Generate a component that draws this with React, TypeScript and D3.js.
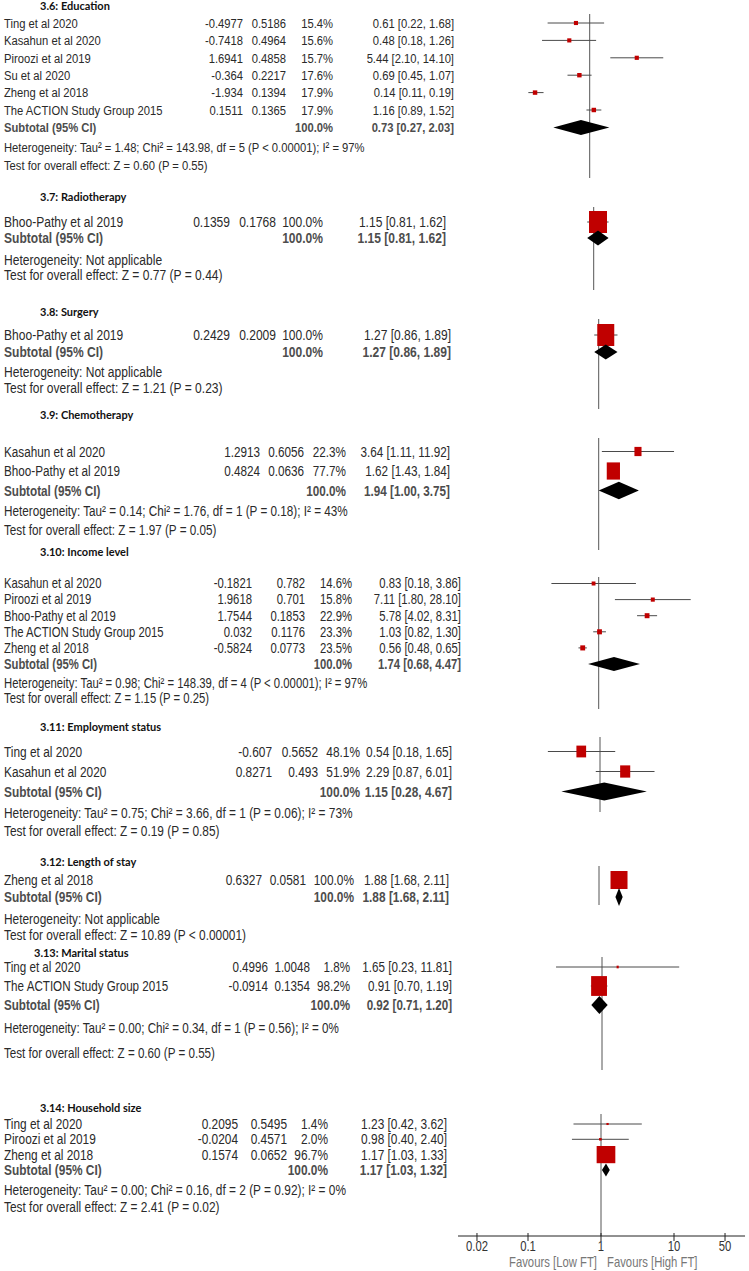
import * as d3 from 'd3';

// ---- data ----
const sectionTitles = [
  '3.6: Education', '3.7: Radiotherapy', '3.8: Surgery', '3.9: Chemotherapy', '3.10: Income level',
  '3.11: Employment status', '3.12: Length of stay', '3.13: Marital status', '3.14: Household size',
];

const studySection = [0, 0, 0, 0, 0, 0, 1, 2, 3, 3, 4, 4, 4, 4, 4, 5, 5, 6, 7, 7, 8, 8, 8];
const studyNames = [
  'Ting et al 2020', 'Kasahun et al 2020', 'Piroozi et al 2019', 'Su et al 2020', 'Zheng et al 2018', 'The ACTION Study Group 2015',
  'Bhoo-Pathy et al 2019',
  'Bhoo-Pathy et al 2019',
  'Kasahun et al 2020', 'Bhoo-Pathy et al 2019',
  'Kasahun et al 2020', 'Piroozi et al 2019', 'Bhoo-Pathy et al 2019', 'The ACTION Study Group 2015', 'Zheng et al 2018',
  'Ting et al 2020', 'Kasahun et al 2020',
  'Zheng et al 2018',
  'Ting et al 2020', 'The ACTION Study Group 2015',
  'Ting et al 2020', 'Piroozi et al 2019', 'Zheng et al 2018',
];
const studyLogOR = [-0.4977, -0.7418, 1.6941, -0.364, -1.934, 0.1511, 0.1359, 0.2429, 1.2913, 0.4824, -0.1821, 1.9618, 1.7544, 0.032, -0.5824, -0.607, 0.8271, 0.6327, 0.4996, -0.0914, 0.2095, -0.0204, 0.1574];
const studySE = [0.5186, 0.4964, 0.4858, 0.2217, 0.1394, 0.1365, 0.1768, 0.2009, 0.6056, 0.0636, 0.782, 0.701, 0.1853, 0.1176, 0.0773, 0.5652, 0.493, 0.0581, 1.0048, 0.1354, 0.5495, 0.4571, 0.0652];
const studyWeight = [15.4, 15.6, 15.7, 17.6, 17.9, 17.9, 100, 100, 22.3, 77.7, 14.6, 15.8, 22.9, 23.3, 23.5, 48.1, 51.9, 100, 1.8, 98.2, 1.4, 2.0, 96.7];
const studyOR = [0.61, 0.48, 5.44, 0.69, 0.14, 1.16, 1.15, 1.27, 3.64, 1.62, 0.83, 7.11, 5.78, 1.03, 0.56, 0.54, 2.29, 1.88, 1.65, 0.91, 1.23, 0.98, 1.17];
const studyLow = [0.22, 0.18, 2.10, 0.45, 0.11, 0.89, 0.81, 0.86, 1.11, 1.43, 0.18, 1.80, 4.02, 0.82, 0.48, 0.18, 0.87, 1.68, 0.23, 0.70, 0.42, 0.40, 1.03];
const studyHigh = [1.68, 1.26, 14.10, 1.07, 0.19, 1.52, 1.62, 1.89, 11.92, 1.84, 3.86, 28.10, 8.31, 1.30, 0.65, 1.65, 6.01, 2.11, 11.81, 1.19, 3.62, 2.40, 1.33];

const subtotalOR = [0.73, 1.15, 1.27, 1.94, 1.74, 1.15, 1.88, 0.92, 1.17];
const subtotalLow = [0.27, 0.81, 0.86, 1.00, 0.68, 0.28, 1.68, 0.71, 1.03];
const subtotalHigh = [2.03, 1.62, 1.89, 3.75, 4.47, 4.67, 2.11, 1.20, 1.32];

const heterogeneityTexts = [
  'Heterogeneity: Tau² = 1.48; Chi² = 143.98, df = 5 (P < 0.00001); I² = 97%',
  'Heterogeneity: Not applicable',
  'Heterogeneity: Not applicable',
  'Heterogeneity: Tau² = 0.14; Chi² = 1.76, df = 1 (P = 0.18); I² = 43%',
  'Heterogeneity: Tau² = 0.98; Chi² = 148.39, df = 4 (P < 0.00001); I² = 97%',
  'Heterogeneity: Tau² = 0.75; Chi² = 3.66, df = 1 (P = 0.06); I² = 73%',
  'Heterogeneity: Not applicable',
  'Heterogeneity: Tau² = 0.00; Chi² = 0.34, df = 1 (P = 0.56); I² = 0%',
  'Heterogeneity: Tau² = 0.00; Chi² = 0.16, df = 2 (P = 0.92); I² = 0%',
];
const overallEffectTexts = [
  'Test for overall effect: Z = 0.60 (P = 0.55)',
  'Test for overall effect: Z = 0.77 (P = 0.44)',
  'Test for overall effect: Z = 1.21 (P = 0.23)',
  'Test for overall effect: Z = 1.97 (P = 0.05)',
  'Test for overall effect: Z = 1.15 (P = 0.25)',
  'Test for overall effect: Z = 0.19 (P = 0.85)',
  'Test for overall effect: Z = 10.89 (P < 0.00001)',
  'Test for overall effect: Z = 0.60 (P = 0.55)',
  'Test for overall effect: Z = 2.41 (P = 0.02)',
];

const axisTicks = [0.02, 0.1, 1, 10, 50];
const favoursLabels = ['Favours [Low FT]', 'Favours [High FT]'];

// ---- layout: the picture is stitched from several screenshots, each with its own scale ----
const layout = [
  { titleY: 6, rowY0: 23, step: 17.4, hetY: 147, testY: 165, x1: 589.7, ppd: 64, top: 14, bottom: 178, font: 13.7, cols: [243, 286, 333, 454], kw: 1.05, kh: 1.05, dh: 7.5 },
  { titleY: 197, rowY0: 222, step: 16, hetY: 260, testY: 275, x1: 593.7, ppd: 71, top: 207, bottom: 290, font: 14.7, cols: [230, 276, 323, 446], kw: 1.8, kh: 2.2, dh: 7.5 },
  { titleY: 312, rowY0: 335, step: 17, hetY: 372, testY: 388, x1: 598.7, ppd: 68, top: 319, bottom: 409, font: 14.7, cols: [230, 276, 323, 451], kw: 1.7, kh: 2.2, dh: 7.5 },
  { titleY: 415, rowY0: 451.5, step: 19.5, hetY: 511, testY: 530, x1: 598.7, ppd: 70, top: 438, bottom: 550, font: 14.3, cols: [260, 304, 346, 450], kw: 1.5, kh: 1.95, dh: 8.8 },
  { titleY: 552, rowY0: 583.5, step: 16.1, hetY: 683, testY: 698, x1: 598.7, ppd: 63.5, top: 577, bottom: 709, font: 13.8, cols: [252, 305, 352, 461], kw: 1.0, kh: 1.05, dh: 7 },
  { titleY: 727, rowY0: 751.5, step: 20, hetY: 813, testY: 831, x1: 600, ppd: 70, top: 737, bottom: 812, font: 14.5, cols: [272, 318, 360, 452], kw: 1.4, kh: 1.7, dh: 9 },
  { titleY: 862, rowY0: 880, step: 17, hetY: 919, testY: 935, x1: 599, ppd: 73, top: 866, bottom: 905, font: 14.5, cols: [262, 306, 354, 449], kw: 1.7, kh: 1.8, dh: 9 },
  { titleY: 953, rowY0: 967, step: 19, hetY: 1028, testY: 1053, x1: 602, ppd: 72, top: 957, bottom: 1070, font: 14.2, cols: [268, 310, 350, 452], kw: 1.6, kh: 2.0, dh: 9 },
  { titleY: 1108, rowY0: 1124, step: 15.3, hetY: 1190, testY: 1207, x1: 601, ppd: 73, top: 1114, bottom: 1236, font: 14.5, cols: [238, 287, 328, 447], kw: 1.9, kh: 1.75, dh: 6.5 },
];

// no narrow font installed: squeeze Liberation Sans horizontally instead
const FONT = "'Liberation Sans', Arial, sans-serif";
const NARROW = 0.82;
const TITLE_FONT = "Lato, 'Open Sans', sans-serif";
const TEXT = '#2a2a2a';
const SUB = '#4d4d4d';
const RED = '#c00000';

const fmtCI = (or: number, lo: number, hi: number) => `${or.toFixed(2)} [${lo.toFixed(2)}, ${hi.toFixed(2)}]`;

function NText({ x, y, size, children, anchor = 'start', bold = false, fill = TEXT }:
  { x: number; y: number; size: number; children: any; anchor?: string; bold?: boolean; fill?: string }) {
  return (
    <text transform={`translate(${x},${y}) scale(${NARROW},1)`} dy="0.35em" textAnchor={anchor}
      fontFamily={FONT} fontSize={size} fontWeight={bold ? 'bold' : 'normal'} fill={fill}>
      {children}
    </text>
  );
}

function Section({ s }: { s: number }) {
  const L = layout[s];
  const x = d3.scaleLog().domain([0.01, 100]).range([L.x1 - 2 * L.ppd, L.x1 + 2 * L.ppd]);
  const idx = d3.range(studyNames.length).filter(i => studySection[i] === s);
  const subY = L.rowY0 + idx.length * L.step;
  const diamond = d3.line()([
    [x(subtotalLow[s]), subY],
    [x(subtotalOR[s]), subY - L.dh],
    [x(subtotalHigh[s]), subY],
    [x(subtotalOR[s]), subY + L.dh],
  ]) + 'Z';

  return (
    <g>
      <text x={s === 7 ? 34 : 40} y={L.titleY} dy="0.35em" fontFamily={TITLE_FONT} fontWeight="bold" fontSize={11} fill="#111">
        {sectionTitles[s]}
      </text>

      <line x1={L.x1} x2={L.x1} y1={L.top} y2={L.bottom} stroke="#555" strokeWidth={1} />

      {idx.map((i, r) => {
        const y = L.rowY0 + r * L.step;
        const w = L.kw * Math.sqrt(studyWeight[i]);
        const h = L.kh * Math.sqrt(studyWeight[i]);
        return (
          <g key={i}>
            <NText x={4} y={y} size={L.font}>{studyNames[i]}</NText>
            <NText x={L.cols[0]} y={y} size={L.font} anchor="end">{String(studyLogOR[i])}</NText>
            <NText x={L.cols[1]} y={y} size={L.font} anchor="end">{String(studySE[i])}</NText>
            <NText x={L.cols[2]} y={y} size={L.font} anchor="end">{studyWeight[i].toFixed(1) + '%'}</NText>
            <NText x={L.cols[3]} y={y} size={L.font} anchor="end">{fmtCI(studyOR[i], studyLow[i], studyHigh[i])}</NText>
            <line x1={x(studyLow[i])} x2={x(studyHigh[i])} y1={y} y2={y} stroke="#4a4a4a" strokeWidth={1} />
            <rect x={x(studyOR[i]) - w / 2} y={y - h / 2} width={w} height={h} fill={RED} />
          </g>
        );
      })}

      <NText x={4} y={subY} size={L.font} bold fill={SUB}>Subtotal (95% CI)</NText>
      <NText x={L.cols[2]} y={subY} size={L.font} bold fill={SUB} anchor="end">100.0%</NText>
      <NText x={L.cols[3]} y={subY} size={L.font} bold fill={SUB} anchor="end">
        {fmtCI(subtotalOR[s], subtotalLow[s], subtotalHigh[s])}
      </NText>
      <path d={diamond} fill="#000" />

      <NText x={4} y={L.hetY} size={L.font}>{heterogeneityTexts[s]}</NText>
      <NText x={4} y={L.testY} size={L.font}>{overallEffectTexts[s]}</NText>
    </g>
  );
}

function Axis() {
  const L = layout[layout.length - 1];
  const x = d3.scaleLog().domain([0.011, 94]).range([L.x1 - Math.log10(1 / 0.011) * L.ppd, L.x1 + Math.log10(94) * L.ppd]);
  const y = L.bottom;
  return (
    <g>
      <line x1={x.range()[0]} x2={x.range()[1]} y1={y} y2={y} stroke="#222" strokeWidth={1} />
      {axisTicks.map(t => (
        <g key={t}>
          <line x1={x(t)} x2={x(t)} y1={y - 3} y2={y + 5} stroke="#222" />
          <NText x={x(t)} y={y + 10} size={13.8} anchor="middle" fill="#333">{String(t)}</NText>
        </g>
      ))}
      <NText x={x(1) - 4} y={y + 26} size={13.8} anchor="end" fill="#777">{favoursLabels[0]}</NText>
      <NText x={x(1) + 6} y={y + 26} size={13.8} fill="#777">{favoursLabels[1]}</NText>
    </g>
  );
}

export default function App() {
  return (
    <div>
      <style>{'body{margin:0;background:#fff;}'}</style>
      <svg width={749} height={1271} style={{ display: 'block', background: '#fff' }}>
        {sectionTitles.map((_, s) => <Section key={s} s={s} />)}
        <Axis />
      </svg>
    </div>
  );
}
